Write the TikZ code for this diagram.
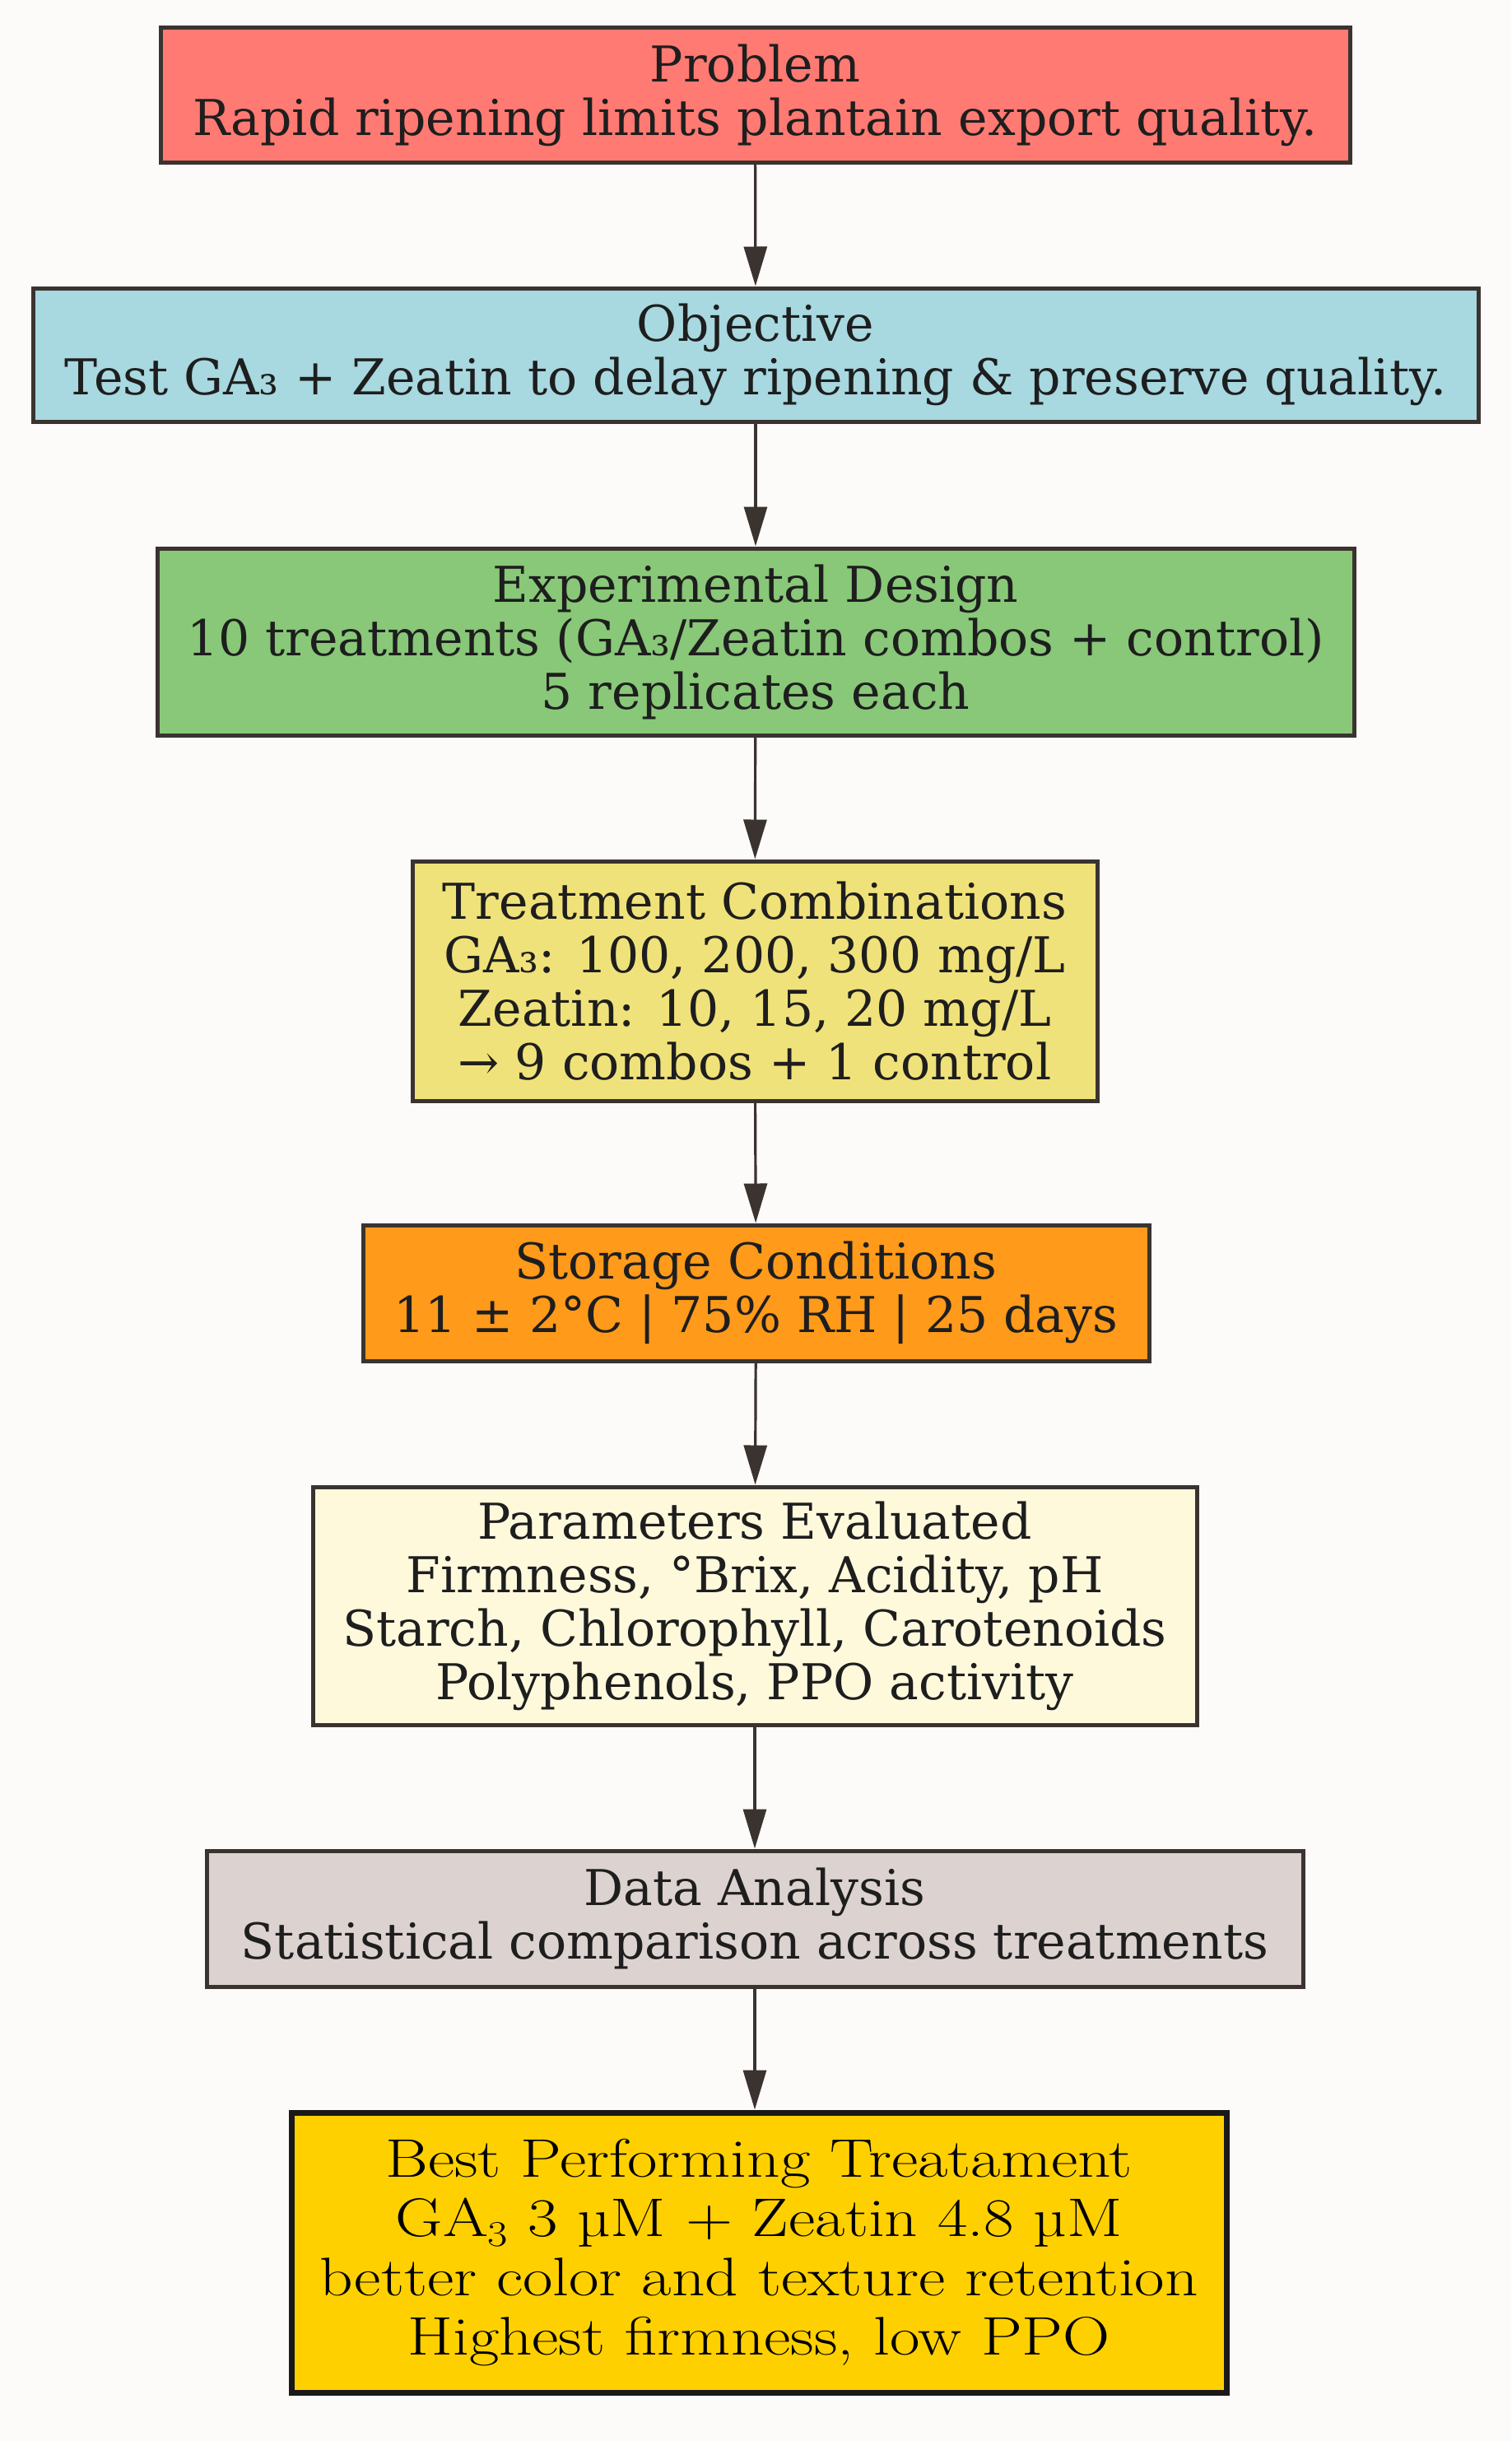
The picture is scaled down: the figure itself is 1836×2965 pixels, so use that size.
\documentclass[tikz,border=0pt]{standalone}
\usepackage{fontspec}
\setmainfont{DejaVu Serif}
\newfontfamily\bestfont[FakeStretch=1.2]{Latin Modern Roman}
\usetikzlibrary{arrows.meta}
\definecolor{bgc}{HTML}{FDFBF9}
\definecolor{cprob}{HTML}{FF7A72}
\definecolor{cobj}{HTML}{A8D8E0}
\definecolor{cdes}{HTML}{88C878}
\definecolor{ctreat}{HTML}{F0E27A}
\definecolor{cstor}{HTML}{FF9A1A}
\definecolor{cpar}{HTML}{FFF9DC}
\definecolor{cdata}{HTML}{DCD2CF}
\definecolor{cbest}{HTML}{FFD000}
\definecolor{edgec}{HTML}{3A3330}
\definecolor{txtc}{HTML}{1E1E1E}
\tikzset{
  box/.style={draw=edgec, line width=2.5pt, rectangle, align=center, inner sep=0pt,
    text=txtc, font=\fontsize{30}{32.5}\selectfont},
  bestbox/.style={draw=black!90, line width=3.5pt, rectangle, align=center, inner sep=0pt,
    text=black, font=\bestfont\fontsize{33}{36}\selectfont},
  flow/.style={draw=edgec, line width=1.6pt, -{Triangle[length=24pt,width=14pt]}},
}
\begin{document}
\begin{tikzpicture}[x=0.5pt,y=-0.5pt]
\fill[bgc] (0,0) rectangle (1836,2965);
\useasboundingbox (0,0) rectangle (1836,2965);
\node[box, fill=cprob, minimum width=722.5pt, minimum height=81.5pt] (prob) at (917.5,115.5)
  {Problem\\Rapid ripening limits plantain export quality.};
\node[box, fill=cobj, minimum width=878pt, minimum height=81pt] (obj) at (918,431)
  {Objective\\Test GA₃ + Zeatin to delay ripening \& preserve quality.};
\node[box, fill=cdes, minimum width=727pt, minimum height=113.5pt] (des) at (918,779.5)
  {Experimental Design\\10 treatments (GA₃/Zeatin combos + control)\\5 replicates each};
\node[box, fill=ctreat, minimum width=416pt, minimum height=145.5pt] (treat) at (917,1191.5)
  {Treatment Combinations\\GA₃: 100, 200, 300 mg/L\\Zeatin: 10, 15, 20 mg/L\\→ 9 combos + 1 control};
\node[box, fill=cstor, minimum width=477.5pt, minimum height=82.5pt] (stor) at (918.5,1570.5)
  {Storage Conditions\\11 ± 2°C | 75\% RH | 25 days};
\node[box, fill=cpar, minimum width=537pt, minimum height=144.5pt] (par) at (917,1950.5)
  {Parameters Evaluated\\Firmness, °Brix, Acidity, pH\\Starch, Chlorophyll, Carotenoids\\Polyphenols, PPO activity};
\node[box, fill=cdata, minimum width=666pt, minimum height=82.5pt] (data) at (917,2330.5)
  {Data Analysis\\Statistical comparison across treatments};
\node[bestbox, fill=cbest, minimum width=568pt, minimum height=170pt] (best) at (922,2736)
  {Best Performing Treatament\\GA\raisebox{-0.18em}{\fontsize{22}{22}\selectfont 3} 3 µM + Zeatin 4.8 µM\\better color and texture retention\\Highest firmness, low PPO};
\draw[flow] (prob) -- (obj);
\draw[flow] (obj) -- (des);
\draw[flow] (des) -- (treat);
\draw[flow] (treat) -- (stor);
\draw[flow] (stor) -- (par);
\draw[flow] (par) -- (data);
\draw[flow] (data.south) -- (data.south |- best.north);
\end{tikzpicture}
\end{document}
